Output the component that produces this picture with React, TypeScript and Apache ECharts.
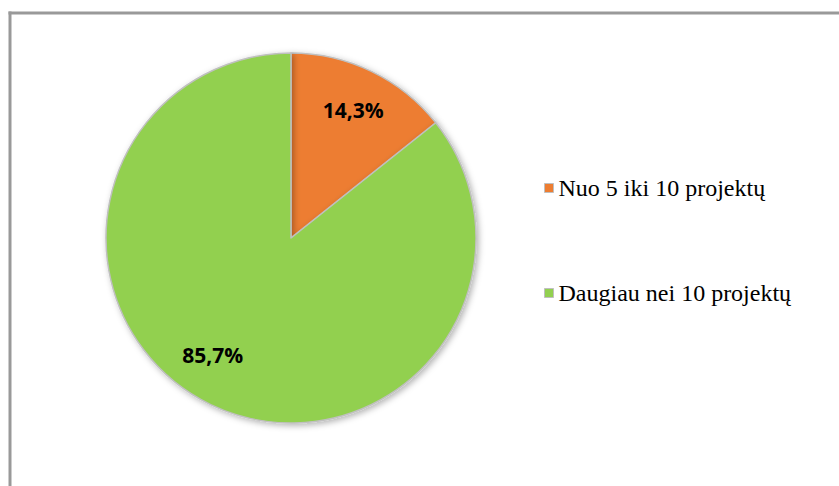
import React, { useEffect, useRef } from "react";
import * as echarts from "echarts";

const categories = ["Nuo 5 iki 10 projektų", "Daugiau nei 10 projektų"];
const values = [14.3, 85.7];
const valueLabels = ["14,3%", "85,7%"];
const colors = ["#ED7D31", "#92D050"];

export default function App() {
  const ref = useRef<HTMLDivElement>(null);
  useEffect(() => {
    if (!ref.current) return;
    const chart = echarts.init(ref.current, null, { renderer: "svg" });
    const data = categories.map((name, i) => ({
      name,
      value: values[i],
      itemStyle: { color: colors[i] },
    }));
    chart.setOption({
      animation: false,
      backgroundColor: "#fff",
      graphic: [
        {
          type: "line",
          shape: { x1: 8.5, y1: 13, x2: 839, y2: 13 },
          style: { stroke: "#999", lineWidth: 3 },
          silent: true,
        },
        {
          type: "line",
          shape: { x1: 10, y1: 11.5, x2: 10, y2: 486 },
          style: { stroke: "#999", lineWidth: 3 },
          silent: true,
        },
      ],
      legend: {
        orient: "vertical",
        left: 544,
        top: 176,
        padding: 0,
        itemWidth: 9,
        itemHeight: 9,
        itemGap: 81,
        icon: "rect",
        data: categories,
        itemStyle: { borderColor: "#bfbfbf", borderWidth: 1 },
        textStyle: {
          fontFamily: "'Liberation Serif', 'DejaVu Serif', serif",
          fontSize: 24,
          color: "#000",
          lineHeight: 24,
        },
      },
      series: [
        {
          type: "pie",
          center: [291, 238],
          radius: [0, 185],
          startAngle: 90,
          clockwise: true,
          label: { show: false },
          labelLine: { show: false },
          itemStyle: {
            borderColor: "#c0c0c0",
            borderWidth: 1.5,
            shadowBlur: 6,
            shadowColor: "rgba(0,0,0,0.3)",
            shadowOffsetX: 2,
            shadowOffsetY: 2,
          },
          emphasis: { disabled: true },
          data,
        },
        {
          type: "pie",
          center: [291, 238],
          radius: [100, 185],
          startAngle: 90,
          clockwise: true,
          silent: true,
          itemStyle: { color: "transparent" },
          label: {
            show: true,
            position: "inside",
            fontFamily: "'Open Sans', sans-serif",
            fontWeight: "bold",
            fontSize: 21,
            color: "#000",
            formatter: (p: any) => valueLabels[p.dataIndex],
          },
          labelLine: { show: false },
          emphasis: { disabled: true },
          data: categories.map((name, i) => ({
            name: name + " ",
            value: values[i],
            label: i === 1 ? { offset: [-15, -14] } : { offset: [-1, 3] },
          })),
        },
      ],
    });
    return () => chart.dispose();
  }, []);
  return (
    <div
      ref={ref}
      style={{ position: "fixed", left: 0, top: 0, width: 839, height: 486 }}
    />
  );
}
